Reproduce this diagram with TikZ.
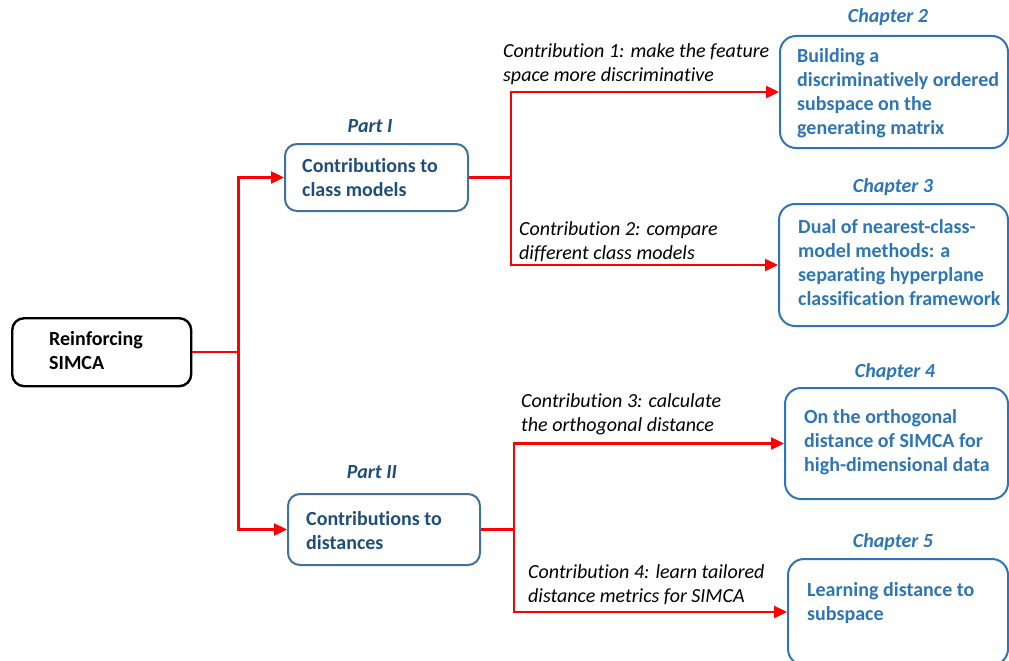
\documentclass[tikz,border=0pt]{standalone}
\usepackage{fontspec}
\setmainfont{Carlito}[RawFeature=-liga]
\usetikzlibrary{arrows.meta}
\definecolor{partblue}{HTML}{1F4E79}
\definecolor{partedge}{HTML}{41719C}
\definecolor{chapblue}{HTML}{2E75B6}
\definecolor{conred}{HTML}{FF0000}
\newcommand\mylines[1]{\begin{tabular}[t]{@{}l@{}}#1\end{tabular}}
\tikzset{
  rootbox/.style={draw=black, line width=2.4pt, rounded corners=12pt, inner sep=0pt},
  partbox/.style={draw=partedge, line width=2pt, rounded corners=12pt, inner sep=0pt},
  chapbox/.style={draw=chapblue, line width=2pt, rounded corners=16pt, inner sep=0pt},
  boxtext/.style={inner sep=0pt, anchor=base west, font=\fontsize{20}{24}\selectfont\bfseries},
  parttext/.style={boxtext, text=partblue},
  chaptext/.style={boxtext, text=chapblue},
  partlabel/.style={inner sep=0pt, anchor=base, text=partblue, font=\fontsize{20}{24}\selectfont\bfseries\itshape},
  chaplabel/.style={inner sep=0pt, anchor=base, text=chapblue, font=\fontsize{20}{24}\selectfont\bfseries\itshape},
  contrib/.style={inner sep=0pt, anchor=base west, font=\fontsize{20}{24}\selectfont\itshape},
  conn/.style={draw=conred, line width=2.4pt},
  arr/.style={conn, -{Triangle[length=13pt,width=12pt]}},
}
\begin{document}
\begin{tikzpicture}[x=1pt,y=-1pt]
\useasboundingbox (0,0) rectangle (1009,661);
% boxes
\node[rootbox, anchor=north west, minimum width=179pt, minimum height=68pt] (root) at (11,317) {};
\node[boxtext] (roottext) at (49,345) {\mylines{Reinforcing\\SIMCA}};

\node[partbox, anchor=north west, minimum width=183pt, minimum height=67pt] (p1) at (284,143) {};
\node[parttext] (p1text) at (302,172) {\mylines{Contributions to\\class models}};
\node[partlabel] (p1lab) at (370,132) {Part I};

\node[partbox, anchor=north west, minimum width=192pt, minimum height=71pt] (p2) at (287,493) {};
\node[parttext] (p2text) at (306,525) {\mylines{Contributions to\\distances}};
\node[partlabel] (p2lab) at (372,478) {Part II};

\node[chapbox, anchor=north west, minimum width=228pt, minimum height=112pt] (c2) at (779,35) {};
\node[chaptext] (c2text) at (797,63) {\mylines{Building a\\discriminatively ordered\\subspace on the\\generating matrix}};
\node[chaplabel] (c2lab) at (888,23) {Chapter 2};

\node[chapbox, anchor=north west, minimum width=229pt, minimum height=122pt] (c3) at (778,203) {};
\node[chaptext] (c3text) at (798,233) {\mylines{Dual of nearest-class-\\model methods: a\\separating hyperplane\\classification framework}};
\node[chaplabel] (c3lab) at (893,192) {Chapter 3};

\node[chapbox, anchor=north west, minimum width=223pt, minimum height=111pt] (c4) at (784,387) {};
\node[chaptext] (c4text) at (804,423) {\mylines{On the orthogonal\\distance of SIMCA for\\high-dimensional data}};
\node[chaplabel] (c4lab) at (895,377) {Chapter 4};

\node[chapbox, anchor=north west, minimum width=220pt, minimum height=106pt] (c5) at (787,558) {};
\node[chaptext] (c5text) at (807,596) {\mylines{Learning distance to\\subspace}};
\node[chaplabel] (c5lab) at (893,547) {Chapter 5};

% contribution labels
\node[contrib] (k1) at (503,58) {\mylines{Contribution 1: make the feature\\space more discriminative}};
\node[contrib] (k2) at (519,235) {\mylines{Contribution 2: compare\\different class models}};
\node[contrib] (k3) at (521,407) {\mylines{Contribution 3: calculate\\the orthogonal distance}};
\node[contrib] (k4) at (528,578) {\mylines{Contribution 4: learn tailored\\distance metrics for SIMCA}};

% junctions
\coordinate (j0) at ([xshift=46pt]root.east);
\coordinate (j1) at ([xshift=42pt]p1.east);
\coordinate (j2) at ([xshift=33pt]p2.east);

% connectors
\draw[conn] (root.east) -- (j0);
\draw[arr] (j0) |- (p1.west);
\draw[arr] (j0) |- (p2.west);
\draw[conn] (p1.east) -- (j1);
\draw[arr] (j1) |- (c2.west);
\draw[arr] (j1) |- (c3.west);
\draw[conn] (p2.east) -- (j2);
\draw[arr] (j2) |- (c4.west);
\draw[arr] (j2) |- (c5.west);
\end{tikzpicture}
\end{document}
